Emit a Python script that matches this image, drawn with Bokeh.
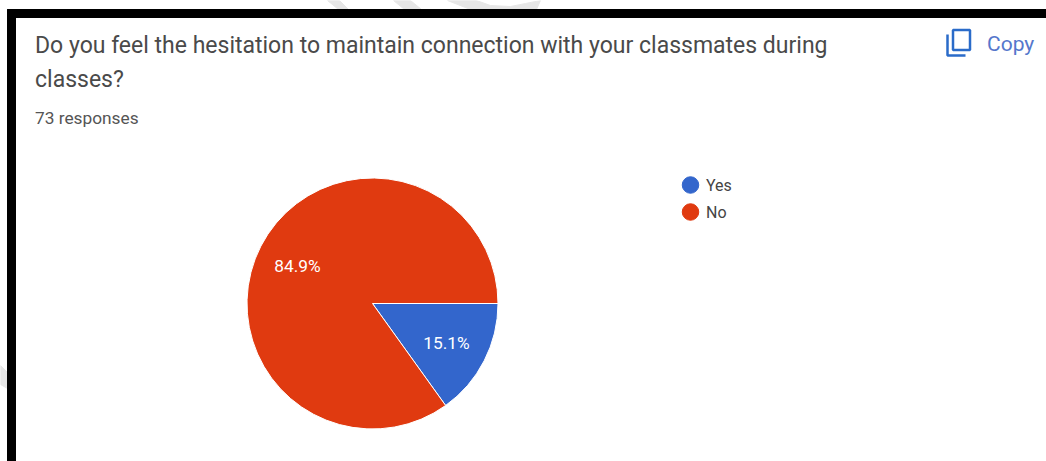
from math import pi
from bokeh.embed import file_html
from bokeh.resources import INLINE
from bokeh.plotting import figure
from bokeh.models import Range1d, ColumnDataSource
from bokeh.core.properties import value

title_lines = ["Do you feel the hesitation to maintain connection with your classmates during", "classes?"]
subtitle = "73 responses"
copy_label = "Copy"
categories = ["Yes", "No"]
shares = [15.1, 84.9]
colors = ["#3366cc", "#e03a10"]

W, H = 1046, 461
p = figure(width=W, height=H, output_backend="svg", toolbar_location=None,
           x_range=Range1d(0, W), y_range=Range1d(H, 0),
           min_border=0, outline_line_color=None, background_fill_color="white",
           border_fill_color="white", styles={"position": "absolute", "left": "0", "top": "0"})
p.axis.visible = False
p.grid.visible = False

# faint watermark fragments around the frame
wm = "#e6e6e6"
p.patch([327, 339, 348, 338], [0, 0, 9, 9], color=wm)
p.patch([393, 410, 421, 404], [0, 0, 9, 9], color=wm)
p.patch([447, 476, 490, 510, 525, 540, 536, 470], [0, 0, 5, 6, 3, 0, 9, 9], color=wm)
p.patch([0, 7, 7, 0], [365, 372, 388, 384], color=wm)

# frame
p.quad(left=[7, 7], right=[15, W], top=[H, 17], bottom=[9, 9], color="black")

def txt(x, y, s, size, color, align="left"):
    p.text(x=[x], y=[y], text=[s], text_font=value("Roboto"), text_font_size=size,
           text_color=color, text_align=align, text_baseline="middle")

txt(34.5, 45, title_lines[0], "23px", "#4a4a4a")
txt(34.5, 79, title_lines[1], "23px", "#4a4a4a")
txt(34.5, 117, subtitle, "17.3px", "#555555")
txt(986.5, 43, copy_label, "21px", "#5577cc")

# copy icon
p.quad(left=[952.5], right=[969.5], top=[49.5], bottom=[29.5], fill_color=None, line_color="#2a6bc9", line_width=2.5)
p.line([947, 947, 965], [34, 55, 55], line_color="#2a6bc9", line_width=2.5)

# pie
cx, cy, r = 372, 303, 125.5
total = sum(shares)
ends, start = [], []
acc = 0
for s in shares:
    start.append(acc)
    acc += s
    ends.append(acc)
src = ColumnDataSource(dict(
    a0=[-2 * pi * e / total for e in ends],
    a1=[-2 * pi * s / total for s in start],
    color=colors))
p.wedge(x=cx, y=cy, radius=r, start_angle="a0", end_angle="a1", direction="anticlock",
        fill_color="color", line_color="white", line_width=1, source=src)

txt(446, 342, f"{shares[0]}%", "17.3px", "white", "center")
txt(297, 265, f"{shares[1]}%", "17.3px", "white", "center")

# legend
p.scatter(x=[690, 690], y=[184.5, 211.5], size=16.5, color=colors, marker="circle")
txt(705.5, 184.5, categories[0], "16px", "#444444")
txt(705.5, 211.5, categories[1], "16px", "#444444")

open("out.html", "w").write(file_html(p, INLINE))
